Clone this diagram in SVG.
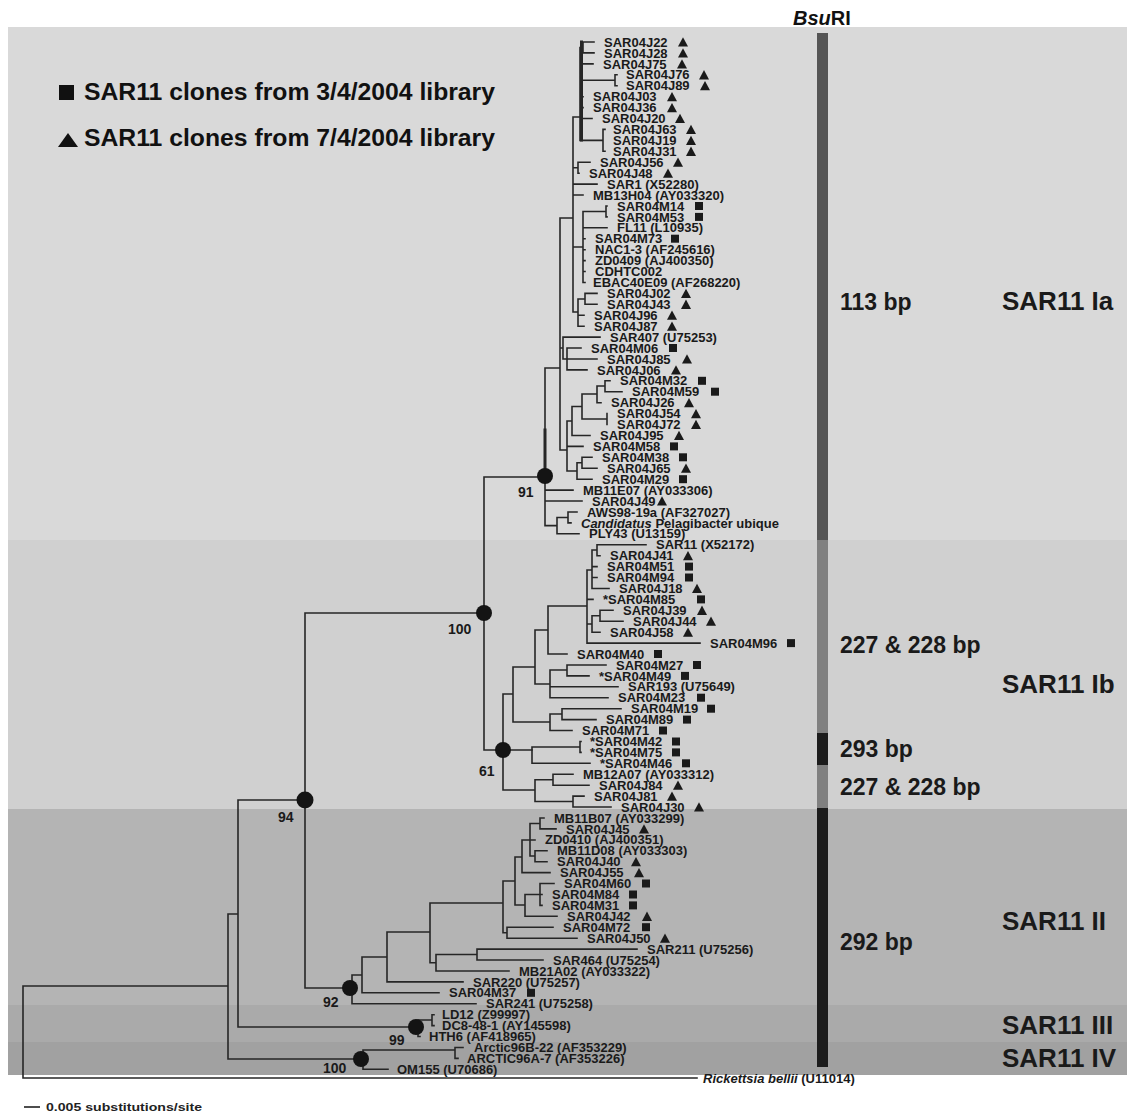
<svg xmlns="http://www.w3.org/2000/svg" width="1127" height="1112" viewBox="0 0 1127 1112">
<defs>
<style>
.lf{font-family:"Liberation Sans",Arial,sans-serif;font-weight:bold;font-size:13px;fill:#1a1a1a}
.bs{font-family:"Liberation Sans",Arial,sans-serif;font-weight:bold;font-size:14px;fill:#1a1a1a}
.bp{font-family:"Liberation Sans",Arial,sans-serif;font-weight:bold;font-size:23px;fill:#1a1a1a}
.cl{font-family:"Liberation Sans",Arial,sans-serif;font-weight:bold;font-size:26px;fill:#1a1a1a}
.lg{font-family:"Liberation Sans",Arial,sans-serif;font-weight:bold;font-size:24px;fill:#111}
.edge{fill:none;stroke:#262626;stroke-width:1.6;stroke-linecap:square}
.node{fill:#141414}
.mk{fill:#1a1a1a}
</style>
<path id="tri" d="M0,-4.7L5,4.6L-5,4.6Z"/>
<rect id="sq" x="-4" y="-4" width="8" height="8"/>
</defs>
<rect width="1127" height="1112" fill="#fff"/>
<g id="bands">
<rect x="8" y="27" width="1119" height="513" fill="#d9d9d9"/>
<rect x="8" y="540" width="1119" height="269" fill="#d0d0d0"/>
<rect x="8" y="809" width="1119" height="196" fill="#b4b4b4"/>
<rect x="8" y="1005" width="1119" height="37" fill="#aaaaaa"/>
<rect x="8" y="1042" width="1119" height="33" fill="#a1a1a1"/>
</g>
<g id="bsuri-bar">
<rect x="817" y="33" width="11" height="507" fill="#555"/>
<rect x="817" y="540" width="11" height="193" fill="#808080"/>
<rect x="817" y="733" width="11" height="32" fill="#1c1c1c"/>
<rect x="817" y="765" width="11" height="43" fill="#808080"/>
<rect x="817" y="808" width="11" height="259" fill="#1c1c1c"/>
</g>
<g id="header"><text x="793" y="25" font-family="Liberation Sans, Arial, sans-serif" font-weight="bold" font-size="20" fill="#111"><tspan font-style="italic">Bsu</tspan>RI</text></g>
<g id="legend">
<rect x="59" y="85" width="15" height="15" fill="#111"/>
<text class="lg" x="84" y="100" textLength="411" lengthAdjust="spacingAndGlyphs">SAR11 clones from 3/4/2004 library</text>
<path d="M68,133L78,147L58,147Z" fill="#111"/>
<text class="lg" x="84" y="146" textLength="411" lengthAdjust="spacingAndGlyphs">SAR11 clones from 7/4/2004 library</text>
</g>
<g id="connectors" class="edge">
<path d="M23,986V1078M23,986H228M23,1078H697M228,914V1059M228,914H238M228,1059H363M238,800V1027M238,800H305M238,1027H418M305,613V988M305,613H484M305,988H352M484,477V750M484,477H545M484,750H532"/>
<path d="M545,368V525.6M545,368H560M560,218V450M560,218H573M573,117V312M573,117H580M580,47.5V140.4M580,47.5H583M583,42V52.9M583,42H594M583,52.9H594M580,63.9H593M580,80.3H615M615,74.8V85.7M615,74.8H617M615,85.7H617M580,96.7H583M580,107.6H583M580,118.5H592M580,140.4H603M603,129.4V151.3M603,129.4H605M603,151.3H605M573,167.7H578M578,162.2V173.2M578,162.2H590M578,173.2H579M573,184.1H597M573,195H583M573,247H583M583,211.5V282.5M583,211.5H606M606,206V216.9M606,206H607M606,216.9H607M583,227.8H607M583,238.7H585M583,249.7H585M583,260.6H585M583,271.5H585M583,282.5H585M573,312H578M578,299V326.2M578,299H585M585,293.4V304.3M585,293.4H597M585,304.3H597M578,315.2H584M578,326.2H584M560,348H563M563,337.1V359M563,337.1H600M563,359H567M567,348V369.9M567,348H581M567,359H597M567,369.9H587M560,450H567M567,421V471M567,421H572M572,406.5V435.5M572,406.5H582M582,394V419M582,394H597M597,386V402.7M597,386H605M605,380.8V391.7M605,380.8H610M605,391.7H622M597,402.7H601M582,419H607M607,413.6V424.5M572,435.5H590M567,446.4H583M567,471H577M577,462.7V479.2M577,462.7H582M582,457.3V468.2M582,457.3H592M582,468.2H597M577,479.2H592M545,490.1H573M545,501H582M545,525.6H557M557,517.5V533.8M557,517.5H568M568,512V522.9M568,512H577M568,522.9H571M557,533.8H579"/>
<path d="M545,430V470M581.5,42V140" stroke-width="3"/>
<path d="M503,694V790M503,694H513M513,667V722M513,667H535M535,630V684M535,630H548M548,606V654M548,606H587M587,570V643.1M587,570H592M592,550V588.5M592,550H597M597,544.7V555.7M597,544.7H646M597,555.7H600M592,566.6H597M592,577.5H597M592,588.5H609M587,599.4H593M587,624H592M592,615.7V632.2M592,615.7H600M600,610.3V621.2M600,610.3H613M600,621.2H623M592,632.2H600M587,643.1H700M548,654H567M535,684H550M550,670V697.7M550,670H567M567,665V675.9M567,665H606M567,675.9H589M550,686.8H618M550,697.7H608M513,722H550M550,714V730.5M550,714H562M562,708.7V719.6M562,708.7H621M562,719.6H596M550,730.5H572M532,747V763.3M532,747H580M580,741.5V752.4M580,741.5H581M580,752.4H581M532,763.3H590M503,790H535M535,779.7V801.5M535,779.7H553M553,774.2V785.2M553,774.2H573M553,785.2H589M535,801.5H573M573,796.1V807M573,796.1H584M573,807H611"/>
<path d="M352,975V1003.7M352,975H362M352,1003.7H476M362,957V992.8M362,957H387M362,992.8H439M387,932V981.9M387,932H430M387,981.9H463M430,903V962.7M430,903H503M430,962.7H436M436,954.5V971M436,954.5H477M477,949.1V960M477,949.1H637M477,960H543M436,971H509M503,881V932.7M503,881H515M515,857V905M515,857H522M522,840V872.6M522,840H535M530,823.5V856M530,823.5H540M540,818V828.9M540,818H544M540,828.9H556M530,856H535M535,850.7V861.7M535,850.7H547M535,861.7H547M522,872.6H550M515,905H525M525,894.5V916.3M525,894.5H540M540,883.5V905.4M540,883.5H554M540,894.5H542M540,905.4H542M525,916.3H557M503,932.7H507M507,927.2V938.2M507,927.2H553M507,938.2H577"/>
<path d="M418,1020V1036.5M418,1020H432M432,1014.7V1025.6M432,1014.7H434M432,1025.6H434M418,1036.5H420M363,1050V1069.3M363,1050H455M455,1047.5V1058.4M455,1047.5H463M455,1058.4H458M363,1069.3H388"/>
</g>
<g id="support-nodes">
<g id="n91"><circle class="node" cx="545" cy="476" r="8"/><text class="bs" x="518" y="497">91</text></g>
<g id="n100a"><circle class="node" cx="484" cy="613" r="8"/><text class="bs" x="448" y="634">100</text></g>
<g id="n61"><circle class="node" cx="503" cy="750" r="8"/><text class="bs" x="479" y="776">61</text></g>
<g id="n94"><circle class="node" cx="305" cy="800" r="8.5"/><text class="bs" x="278" y="822">94</text></g>
<g id="n92"><circle class="node" cx="350" cy="988" r="8"/><text class="bs" x="323" y="1007">92</text></g>
<g id="n99"><circle class="node" cx="416" cy="1027" r="8"/><text class="bs" x="389" y="1045">99</text></g>
<g id="n100b"><circle class="node" cx="361" cy="1059" r="8"/><text class="bs" x="323" y="1073">100</text></g>
</g>
<g id="leaves">
<g id="L1"><text class="lf" x="604" y="46.6">SAR04J22</text><use href="#tri" class="mk" x="683" y="42"/></g>
<g id="L2"><text class="lf" x="604" y="57.5">SAR04J28</text><use href="#tri" class="mk" x="683" y="52.9"/></g>
<g id="L3"><text class="lf" x="603" y="68.5">SAR04J75</text><use href="#tri" class="mk" x="682" y="63.9"/></g>
<g id="L4"><text class="lf" x="626" y="79.4">SAR04J76</text><use href="#tri" class="mk" x="704" y="74.8"/></g>
<g id="L5"><text class="lf" x="626" y="90.3">SAR04J89</text><use href="#tri" class="mk" x="705" y="85.7"/></g>
<g id="L6"><text class="lf" x="593" y="101.3">SAR04J03</text><use href="#tri" class="mk" x="672" y="96.7"/></g>
<g id="L7"><text class="lf" x="593" y="112.2">SAR04J36</text><use href="#tri" class="mk" x="672" y="107.6"/></g>
<g id="L8"><text class="lf" x="602" y="123.1">SAR04J20</text><use href="#tri" class="mk" x="680" y="118.5"/></g>
<g id="L9"><text class="lf" x="613" y="134">SAR04J63</text><use href="#tri" class="mk" x="691" y="129.4"/></g>
<g id="L10"><text class="lf" x="613" y="145">SAR04J19</text><use href="#tri" class="mk" x="691" y="140.4"/></g>
<g id="L11"><text class="lf" x="613" y="155.9">SAR04J31</text><use href="#tri" class="mk" x="691" y="151.3"/></g>
<g id="L12"><text class="lf" x="600" y="166.8">SAR04J56</text><use href="#tri" class="mk" x="678" y="162.2"/></g>
<g id="L13"><text class="lf" x="589" y="177.8">SAR04J48</text><use href="#tri" class="mk" x="668" y="173.2"/></g>
<g id="L14"><text class="lf" x="607" y="188.7">SAR1 (X52280)</text></g>
<g id="L15"><text class="lf" x="593" y="199.6">MB13H04 (AY033320)</text></g>
<g id="L16"><text class="lf" x="617" y="210.6">SAR04M14</text><use href="#sq" class="mk" x="699" y="206"/></g>
<g id="L17"><text class="lf" x="617" y="221.5">SAR04M53</text><use href="#sq" class="mk" x="699" y="216.9"/></g>
<g id="L18"><text class="lf" x="617" y="232.4">FL11 (L10935)</text></g>
<g id="L19"><text class="lf" x="595" y="243.3">SAR04M73</text><use href="#sq" class="mk" x="675" y="238.7"/></g>
<g id="L20"><text class="lf" x="595" y="254.3">NAC1-3 (AF245616)</text></g>
<g id="L21"><text class="lf" x="595" y="265.2">ZD0409 (AJ400350)</text></g>
<g id="L22"><text class="lf" x="595" y="276.1">CDHTC002</text></g>
<g id="L23"><text class="lf" x="593" y="287.1">EBAC40E09 (AF268220)</text></g>
<g id="L24"><text class="lf" x="607" y="298">SAR04J02</text><use href="#tri" class="mk" x="686" y="293.4"/></g>
<g id="L25"><text class="lf" x="607" y="308.9">SAR04J43</text><use href="#tri" class="mk" x="686" y="304.3"/></g>
<g id="L26"><text class="lf" x="594" y="319.8">SAR04J96</text><use href="#tri" class="mk" x="672" y="315.2"/></g>
<g id="L27"><text class="lf" x="594" y="330.8">SAR04J87</text><use href="#tri" class="mk" x="672" y="326.2"/></g>
<g id="L28"><text class="lf" x="610" y="341.7">SAR407 (U75253)</text></g>
<g id="L29"><text class="lf" x="591" y="352.6">SAR04M06</text><use href="#sq" class="mk" x="673" y="348"/></g>
<g id="L30"><text class="lf" x="607" y="363.6">SAR04J85</text><use href="#tri" class="mk" x="687" y="359"/></g>
<g id="L31"><text class="lf" x="597" y="374.5">SAR04J06</text><use href="#tri" class="mk" x="676" y="369.9"/></g>
<g id="L32"><text class="lf" x="620" y="385.4">SAR04M32</text><use href="#sq" class="mk" x="702" y="380.8"/></g>
<g id="L33"><text class="lf" x="632" y="396.3">SAR04M59</text><use href="#sq" class="mk" x="715" y="391.7"/></g>
<g id="L34"><text class="lf" x="611" y="407.3">SAR04J26</text><use href="#tri" class="mk" x="689" y="402.7"/></g>
<g id="L35"><text class="lf" x="617" y="418.2">SAR04J54</text><use href="#tri" class="mk" x="696" y="413.6"/></g>
<g id="L36"><text class="lf" x="617" y="429.1">SAR04J72</text><use href="#tri" class="mk" x="696" y="424.5"/></g>
<g id="L37"><text class="lf" x="600" y="440.1">SAR04J95</text><use href="#tri" class="mk" x="679" y="435.5"/></g>
<g id="L38"><text class="lf" x="593" y="451">SAR04M58</text><use href="#sq" class="mk" x="674" y="446.4"/></g>
<g id="L39"><text class="lf" x="602" y="461.9">SAR04M38</text><use href="#sq" class="mk" x="683" y="457.3"/></g>
<g id="L40"><text class="lf" x="607" y="472.8">SAR04J65</text><use href="#tri" class="mk" x="686" y="468.2"/></g>
<g id="L41"><text class="lf" x="602" y="483.8">SAR04M29</text><use href="#sq" class="mk" x="683" y="479.2"/></g>
<g id="L42"><text class="lf" x="583" y="494.7">MB11E07 (AY033306)</text></g>
<g id="L43"><text class="lf" x="592" y="505.6">SAR04J49</text><use href="#tri" class="mk" x="662" y="501"/></g>
<g id="L44"><text class="lf" x="587" y="516.6">AWS98-19a (AF327027)</text></g>
<g id="L45"><text class="lf" x="581" y="527.5"><tspan font-style="italic">Candidatus</tspan> Pelagibacter ubique</text></g>
<g id="L46"><text class="lf" x="589" y="538.4">PLY43 (U13159)</text></g>
<g id="L47"><text class="lf" x="656" y="549.3">SAR11 (X52172)</text></g>
<g id="L48"><text class="lf" x="610" y="560.3">SAR04J41</text><use href="#tri" class="mk" x="688" y="555.7"/></g>
<g id="L49"><text class="lf" x="607" y="571.2">SAR04M51</text><use href="#sq" class="mk" x="689" y="566.6"/></g>
<g id="L50"><text class="lf" x="607" y="582.1">SAR04M94</text><use href="#sq" class="mk" x="689" y="577.5"/></g>
<g id="L51"><text class="lf" x="619" y="593.1">SAR04J18</text><use href="#tri" class="mk" x="697" y="588.5"/></g>
<g id="L52"><text class="lf" x="603" y="604">*SAR04M85</text><use href="#sq" class="mk" x="701" y="599.4"/></g>
<g id="L53"><text class="lf" x="623" y="614.9">SAR04J39</text><use href="#tri" class="mk" x="702" y="610.3"/></g>
<g id="L54"><text class="lf" x="633" y="625.8">SAR04J44</text><use href="#tri" class="mk" x="711" y="621.2"/></g>
<g id="L55"><text class="lf" x="610" y="636.8">SAR04J58</text><use href="#tri" class="mk" x="688" y="632.2"/></g>
<g id="L56"><text class="lf" x="710" y="647.7">SAR04M96</text><use href="#sq" class="mk" x="791" y="643.1"/></g>
<g id="L57"><text class="lf" x="577" y="658.6">SAR04M40</text><use href="#sq" class="mk" x="658" y="654"/></g>
<g id="L58"><text class="lf" x="616" y="669.6">SAR04M27</text><use href="#sq" class="mk" x="697" y="665"/></g>
<g id="L59"><text class="lf" x="599" y="680.5">*SAR04M49</text><use href="#sq" class="mk" x="685" y="675.9"/></g>
<g id="L60"><text class="lf" x="628" y="691.4">SAR193 (U75649)</text></g>
<g id="L61"><text class="lf" x="618" y="702.3">SAR04M23</text><use href="#sq" class="mk" x="701" y="697.7"/></g>
<g id="L62"><text class="lf" x="631" y="713.3">SAR04M19</text><use href="#sq" class="mk" x="711" y="708.7"/></g>
<g id="L63"><text class="lf" x="606" y="724.2">SAR04M89</text><use href="#sq" class="mk" x="687" y="719.6"/></g>
<g id="L64"><text class="lf" x="582" y="735.1">SAR04M71</text><use href="#sq" class="mk" x="663" y="730.5"/></g>
<g id="L65"><text class="lf" x="590" y="746.1">*SAR04M42</text><use href="#sq" class="mk" x="676" y="741.5"/></g>
<g id="L66"><text class="lf" x="590" y="757">*SAR04M75</text><use href="#sq" class="mk" x="676" y="752.4"/></g>
<g id="L67"><text class="lf" x="600" y="767.9">*SAR04M46</text><use href="#sq" class="mk" x="686" y="763.3"/></g>
<g id="L68"><text class="lf" x="583" y="778.8">MB12A07 (AY033312)</text></g>
<g id="L69"><text class="lf" x="599" y="789.8">SAR04J84</text><use href="#tri" class="mk" x="678" y="785.2"/></g>
<g id="L70"><text class="lf" x="594" y="800.7">SAR04J81</text><use href="#tri" class="mk" x="672" y="796.1"/></g>
<g id="L71"><text class="lf" x="621" y="811.6">SAR04J30</text><use href="#tri" class="mk" x="699" y="807"/></g>
<g id="L72"><text class="lf" x="554" y="822.6">MB11B07 (AY033299)</text></g>
<g id="L73"><text class="lf" x="566" y="833.5">SAR04J45</text><use href="#tri" class="mk" x="644" y="828.9"/></g>
<g id="L74"><text class="lf" x="545" y="844.4">ZD0410 (AJ400351)</text></g>
<g id="L75"><text class="lf" x="557" y="855.3">MB11D08 (AY033303)</text></g>
<g id="L76"><text class="lf" x="557" y="866.3">SAR04J40</text><use href="#tri" class="mk" x="636" y="861.7"/></g>
<g id="L77"><text class="lf" x="560" y="877.2">SAR04J55</text><use href="#tri" class="mk" x="639" y="872.6"/></g>
<g id="L78"><text class="lf" x="564" y="888.1">SAR04M60</text><use href="#sq" class="mk" x="646" y="883.5"/></g>
<g id="L79"><text class="lf" x="552" y="899.1">SAR04M84</text><use href="#sq" class="mk" x="633" y="894.5"/></g>
<g id="L80"><text class="lf" x="552" y="910">SAR04M31</text><use href="#sq" class="mk" x="633" y="905.4"/></g>
<g id="L81"><text class="lf" x="567" y="920.9">SAR04J42</text><use href="#tri" class="mk" x="647" y="916.3"/></g>
<g id="L82"><text class="lf" x="563" y="931.8">SAR04M72</text><use href="#sq" class="mk" x="646" y="927.2"/></g>
<g id="L83"><text class="lf" x="587" y="942.8">SAR04J50</text><use href="#tri" class="mk" x="665" y="938.2"/></g>
<g id="L84"><text class="lf" x="647" y="953.7">SAR211 (U75256)</text></g>
<g id="L85"><text class="lf" x="553" y="964.6">SAR464 (U75254)</text></g>
<g id="L86"><text class="lf" x="519" y="975.6">MB21A02 (AY033322)</text></g>
<g id="L87"><text class="lf" x="473" y="986.5">SAR220 (U75257)</text></g>
<g id="L88"><text class="lf" x="449" y="997.4">SAR04M37</text><use href="#sq" class="mk" x="531" y="992.8"/></g>
<g id="L89"><text class="lf" x="486" y="1008.3">SAR241 (U75258)</text></g>
<g id="L90"><text class="lf" x="442" y="1019.3">LD12 (Z99997)</text></g>
<g id="L91"><text class="lf" x="442" y="1030.2">DC8-48-1 (AY145598)</text></g>
<g id="L92"><text class="lf" x="429" y="1041.1">HTH6 (AF418965)</text></g>
<g id="L93"><text class="lf" x="474" y="1052.1">Arctic96B-22 (AF353229)</text></g>
<g id="L94"><text class="lf" x="467" y="1063">ARCTIC96A-7 (AF353226)</text></g>
<g id="L95"><text class="lf" x="397" y="1073.9">OM155 (U70686)</text></g>
<g id="L96"><text class="lf" x="703" y="1083"><tspan font-style="italic">Rickettsia bellii</tspan> (U11014)</text></g>
</g>
<g id="clade-labels">
<text class="bp" x="840" y="310">113 bp</text>
<text class="cl" x="1002" y="310">SAR11 Ia</text>
<text class="bp" x="840" y="653">227 &amp; 228 bp</text>
<text class="cl" x="1002" y="693">SAR11 Ib</text>
<text class="bp" x="840" y="757">293 bp</text>
<text class="bp" x="840" y="795">227 &amp; 228 bp</text>
<text class="cl" x="1002" y="930">SAR11 II</text>
<text class="bp" x="840" y="950">292 bp</text>
<text class="cl" x="1002" y="1034">SAR11 III</text>
<text class="cl" x="1002" y="1067">SAR11 IV</text>
</g>
<g id="scale">
<path d="M24,1107H40" stroke="#222" stroke-width="1.6"/>
<text x="46" y="1111" font-family="Liberation Sans, Arial, sans-serif" font-weight="bold" font-size="11" fill="#222" textLength="156" lengthAdjust="spacingAndGlyphs">0.005 substitutions/site</text>
</g>
</svg>
